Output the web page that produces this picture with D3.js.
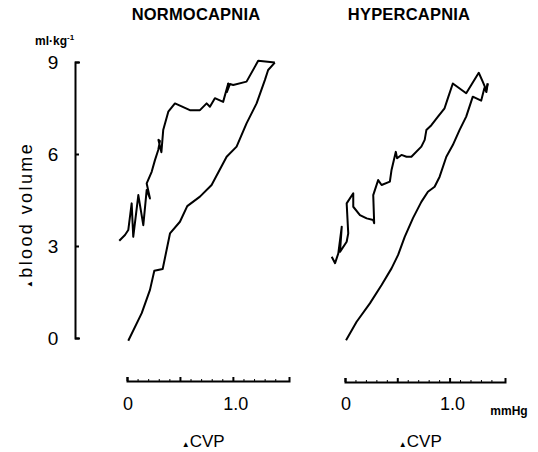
<!DOCTYPE html>
<html>
<head>
<meta charset="utf-8">
<script src="https://cdn.jsdelivr.net/npm/d3@7"></script>
<style>
  html, body { margin: 0; padding: 0; background: #fff; }
  svg { display: block; }
  text { font-family: "Liberation Sans", Arial, sans-serif; fill: #000; }
</style>
</head>
<body>
<svg id="chart" width="538" height="452"></svg>
<script>
// ---- data ----
const panelTitles = ["NORMOCAPNIA", "HYPERCAPNIA"];
const yTicks = [0, 3, 6, 9];
const xTicks = [0, 0.5, 1.0];
const xTickLabels = ["0", "", "1.0"];
const xMinorTicks = [0.1, 0.2, 0.3, 0.4, 0.6, 0.7, 0.8, 0.9, 1.1, 1.2, 1.3, 1.4];

const normoUpperCVP = [-0.073,-0.019,0.012,0.044,0.059,0.107,0.154,0.186,0.217,0.186,0.233,0.264,0.295,0.311,0.297,0.325,0.342,0.39,0.453,0.594,0.689,0.752,0.783,0.83,0.908,0.956,0.943,0.972,1.003,1.129,1.239,1.396];
const normoUpperVol = [3.17,3.36,3.52,4.39,3.30,4.66,3.68,4.83,4.55,5.04,5.42,5.80,6.13,6.42,6.46,6.06,6.78,7.38,7.65,7.43,7.43,7.65,7.54,7.82,7.70,8.30,8.02,8.28,8.25,8.36,9.04,8.98];
const normoLowerCVP = [0.012,0.139,0.217,0.258,0.337,0.406,0.5,0.569,0.689,0.799,0.941,1.035,1.129,1.224,1.302,1.333,1.396];
const normoLowerVol = [-0.09,0.81,1.57,2.19,2.25,3.41,3.79,4.30,4.61,4.99,5.91,6.24,7.0,7.65,8.41,8.74,8.98];

const hyperUpperCVP = [-0.127,-0.095,-0.064,-0.031,-0.048,0.016,0.031,0.016,0.079,0.079,0.143,0.207,0.27,0.279,0.27,0.317,0.35,0.429,0.445,0.486,0.498,0.54,0.588,0.635,0.73,0.762,0.778,0.826,0.889,0.952,0.984,1.031,1.159,1.279,1.317,1.35,1.365];
const hyperUpperVol = [2.65,2.44,2.76,3.63,2.81,3.14,3.41,4.39,4.72,4.28,4.01,3.90,3.85,3.74,4.66,5.15,4.99,5.10,5.48,6.07,5.86,5.97,5.91,5.91,6.24,6.46,6.78,6.94,7.22,7.49,7.82,8.30,7.98,8.65,8.36,8.09,8.30];
const hyperLowerCVP = [0.01,0.111,0.238,0.35,0.445,0.508,0.571,0.65,0.73,0.793,0.857,0.905,0.969,1.031,1.095,1.159,1.222,1.302,1.333,1.352,1.365];
const hyperLowerVol = [-0.07,0.53,1.13,1.73,2.27,2.71,3.30,3.91,4.44,4.77,4.93,5.26,5.91,6.29,6.78,7.22,7.87,7.74,8.15,8.02,8.30];

// ---- layout ----
const svg = d3.select("#chart");
const y = d3.scaleLinear().domain([0, 9]).range([338, 62]);
const panels = [
  { title: panelTitles[0], titleX: 196, x: d3.scaleLinear().domain([0, 1.53]).range([127, 289]), axisY: 381,
    series: [[normoUpperCVP, normoUpperVol], [normoLowerCVP, normoLowerVol]] },
  { title: panelTitles[1], titleX: 409, x: d3.scaleLinear().domain([0, 1.53]).range([345, 505]), axisY: 382,
    series: [[hyperUpperCVP, hyperUpperVol], [hyperLowerCVP, hyperLowerVol]] }
];

// y axis
const yAxis = svg.append("g").attr("transform", "translate(75,0)")
  .call(d3.axisLeft(y).tickValues(yTicks).tickSize(-4).tickSizeOuter(-5).tickFormat(""));
yAxis.selectAll("path, line").attr("stroke", "#000").attr("stroke-width", 2);
svg.append("g").selectAll("text").data(yTicks).join("text")
  .attr("x", 53).attr("y", d => y(d) + 7)
  .attr("text-anchor", "middle").attr("font-size", 19).text(d => d);

// unit label
const unit = svg.append("text").attr("x", 35).attr("y", 45).attr("font-size", 12).attr("font-weight", "bold");
unit.append("tspan").text("ml·kg");
unit.append("tspan").attr("dy", -5).attr("font-size", 8).text("-1");

// y title
const yt = svg.append("text").attr("transform", "translate(32,215) rotate(-90)")
  .attr("text-anchor", "middle").attr("font-size", 18).attr("letter-spacing", 2.4);
yt.append("tspan").attr("font-size", 8).attr("dy", 0).text("▲");
yt.append("tspan").text("blood  volume");

panels.forEach((p, i) => {
  svg.append("text").attr("x", p.titleX).attr("y", 20).attr("text-anchor", "middle")
    .attr("font-size", 16.5).attr("font-weight", "bold").attr("letter-spacing", 0.2).text(p.title);

  const ax = svg.append("g").attr("transform", `translate(0,${p.axisY})`)
    .call(d3.axisTop(p.x).tickValues(xTicks).tickSize(4).tickSizeOuter(4).tickFormat(""));
  ax.selectAll("path, line").attr("stroke", "#000").attr("stroke-width", 2);
  const mn = svg.append("g").attr("transform", `translate(0,${p.axisY})`)
    .call(d3.axisTop(p.x).tickValues(xMinorTicks).tickSize(2).tickSizeOuter(0).tickFormat(""));
  mn.select(".domain").remove();
  mn.selectAll("line").attr("stroke", "#000").attr("stroke-width", 1);

  svg.append("g").selectAll("text").data(xTicks).join("text")
    .attr("x", (d, j) => p.x(d) + (j === 2 ? 3 : 1)).attr("y", 410)
    .attr("text-anchor", "middle").attr("font-size", 18).text((d, j) => xTickLabels[j]);

  const xt = svg.append("text").attr("x", p.x(0.72)).attr("y", 447).attr("text-anchor", "middle").attr("font-size", 17);
  xt.append("tspan").attr("font-size", 8).text("▲");
  xt.append("tspan").text("CVP");

  const line = d3.line().x(d => p.x(d[0])).y(d => y(d[1]));
  p.series.forEach(([xs, ys]) => {
    svg.append("path").datum(xs.map((v, k) => [v, ys[k]]))
      .attr("fill", "none").attr("stroke", "#000").attr("stroke-width", 2)
      .attr("stroke-linejoin", "round").attr("d", line);
  });
});

svg.append("text").attr("x", 509).attr("y", 415).attr("text-anchor", "middle")
  .attr("font-size", 12).attr("font-weight", "bold").text("mmHg");
</script>
</body>
</html>
